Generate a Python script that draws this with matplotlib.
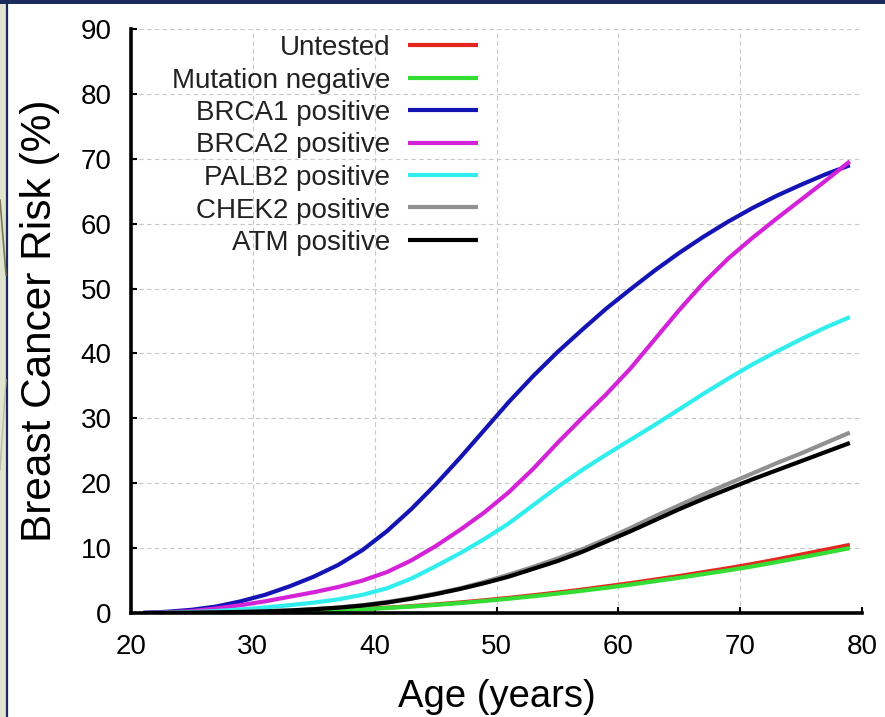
import matplotlib
matplotlib.use("Agg")
import matplotlib.pyplot as plt
from matplotlib.lines import Line2D
from matplotlib.patches import Rectangle

# ---- data ----
age = [21, 23, 25, 27, 29, 31, 33, 35, 37, 39, 41, 43, 45, 47, 49,
       51, 53, 55, 57, 59, 61, 63, 65, 67, 69, 71, 73, 75, 77, 79]
untested = [0, 0.01, 0.03, 0.06, 0.1, 0.15, 0.22, 0.32, 0.45, 0.62, 0.82, 1.05, 1.32, 1.62, 1.96,
            2.33, 2.73, 3.15, 3.6, 4.1, 4.6, 5.15, 5.7, 6.3, 6.9, 7.55, 8.25, 9.0, 9.75, 10.5]
mut_neg = [0, 0.01, 0.03, 0.05, 0.09, 0.14, 0.2, 0.3, 0.42, 0.58, 0.77, 0.99, 1.25, 1.53, 1.85,
           2.2, 2.58, 2.98, 3.42, 3.88, 4.37, 4.9, 5.43, 6.0, 6.57, 7.18, 7.85, 8.55, 9.27, 10.0]
brca1 = [0, 0.2, 0.5, 1.0, 1.8, 2.8, 4.1, 5.6, 7.4, 9.7, 12.6, 16.0, 19.8, 23.9, 28.2,
         32.5, 36.5, 40.2, 43.6, 46.9, 49.9, 52.8, 55.5, 58.0, 60.3, 62.4, 64.3, 66.0, 67.6, 69.0]
brca2 = [0, 0.1, 0.3, 0.7, 1.2, 1.8, 2.5, 3.2, 4.0, 5.0, 6.3, 8.1, 10.3, 12.8, 15.5,
         18.6, 22.2, 26.2, 30.0, 33.7, 37.7, 42.2, 46.7, 50.9, 54.6, 57.8, 60.8, 63.7, 66.6, 69.6]
palb2 = [0, 0.05, 0.15, 0.3, 0.55, 0.85, 1.2, 1.6, 2.1, 2.8, 3.8, 5.3, 7.2, 9.2, 11.4,
         13.8, 16.6, 19.4, 22.0, 24.4, 26.7, 29.0, 31.4, 33.8, 36.1, 38.3, 40.3, 42.2, 44.0, 45.6]
chek2 = [0, 0.02, 0.05, 0.1, 0.17, 0.26, 0.4, 0.6, 0.85, 1.2, 1.7, 2.3, 3.0, 3.8, 4.8,
         5.9, 7.1, 8.4, 9.8, 11.4, 13.1, 14.9, 16.6, 18.3, 19.9, 21.5, 23.1, 24.6, 26.2, 27.8]
atm = [0, 0.02, 0.05, 0.1, 0.16, 0.25, 0.38, 0.58, 0.82, 1.15, 1.6, 2.2, 2.9, 3.7, 4.6,
       5.6, 6.8, 8.0, 9.4, 11.0, 12.6, 14.3, 16.0, 17.6, 19.1, 20.6, 22.0, 23.4, 24.8, 26.2]

labels = ["Untested", "Mutation negative", "BRCA1 positive", "BRCA2 positive",
          "PALB2 positive", "CHEK2 positive", "ATM positive"]
series = [untested, mut_neg, brca1, brca2, palb2, chek2, atm]
colors = ["#e5261e", "#33dd33", "#1414b4", "#d422d8", "#30eeee", "#909090", "#000000"]

x_ticks = [20, 30, 40, 50, 60, 70, 80]
y_ticks = [0, 10, 20, 30, 40, 50, 60, 70, 80, 90]

W, H = 885, 717
plt.rcParams['font.family'] = ['Liberation Sans', 'DejaVu Sans']
fig = plt.figure(figsize=(W / 100, H / 100), dpi=100)
fig.patch.set_facecolor("white")

# slide decoration: left strip and top band
fig.patches.append(Rectangle((0, 0), 6 / W, 1, transform=fig.transFigure,
                             facecolor="#e1e5cf", edgecolor="none", zorder=0))
fig.lines.append(Line2D([7 / W, 7 / W], [0, 1], transform=fig.transFigure,
                        color="#1a2a5c", lw=1.6))
fig.patches.append(Rectangle((0, 1 - 4 / H), 1, 4 / H, transform=fig.transFigure,
                             facecolor="#1a2a5c", edgecolor="none", zorder=0))
fig.lines.append(Line2D([0, 6 / W], [1 - 200 / H, 1 - 275 / H], transform=fig.transFigure,
                        color="#7a7a58", lw=1.2))
fig.lines.append(Line2D([0, 6 / W], [1 - 470 / H, 1 - 380 / H], transform=fig.transFigure,
                        color="#b9bca8", lw=1.0))

ax = fig.add_axes([131 / W, 1 - 613 / H, (862 - 131) / W, (613 - 29) / H])
ax.set_facecolor("white")

handles = []
for ys, lab, c in zip(series, labels, colors):
    h, = ax.plot(age, ys, color=c, lw=3.0, label=lab,
                 solid_capstyle="butt", solid_joinstyle="round")
    handles.append(h)

ax.set_xlim(20, 80)
ax.set_ylim(0, 90)
ax.set_xticks(x_ticks)
ax.set_yticks(y_ticks)
ax.tick_params(direction="in", length=4, width=1.5, labelsize=20, colors="black")
ax.tick_params(axis="y", pad=14)
ax.tick_params(axis="x", pad=15)
for s in ["top", "right"]:
    ax.spines[s].set_visible(False)
for s in ["left", "bottom"]:
    ax.spines[s].set_linewidth(2.6)
    ax.spines[s].set_color("black")
ax.grid(True, color="#c8c8c8", linestyle=(0, (4, 3)), linewidth=0.8)
ax.set_axisbelow(True)

ax.set_xlabel("Age (years)", fontsize=27.5, labelpad=14)
ax.set_ylabel("Breast Cancer Risk (%)", fontsize=30.5, labelpad=15)

# legend: right-aligned labels with the line sample to their right
for i, h in enumerate(handles):
    y_px = 45 + 32.5 * i
    fig.text(390 / W, 1 - (y_px + 10) / H, h.get_label(), ha="right",
             va="baseline", fontsize=20, color="#222222")
    fig.lines.append(Line2D([408 / W, 478 / W], [1 - y_px / H] * 2,
                            transform=fig.transFigure, color=h.get_color(),
                            lw=3.0, solid_capstyle="butt"))

fig.savefig("out.png", dpi=100, facecolor=fig.get_facecolor())
